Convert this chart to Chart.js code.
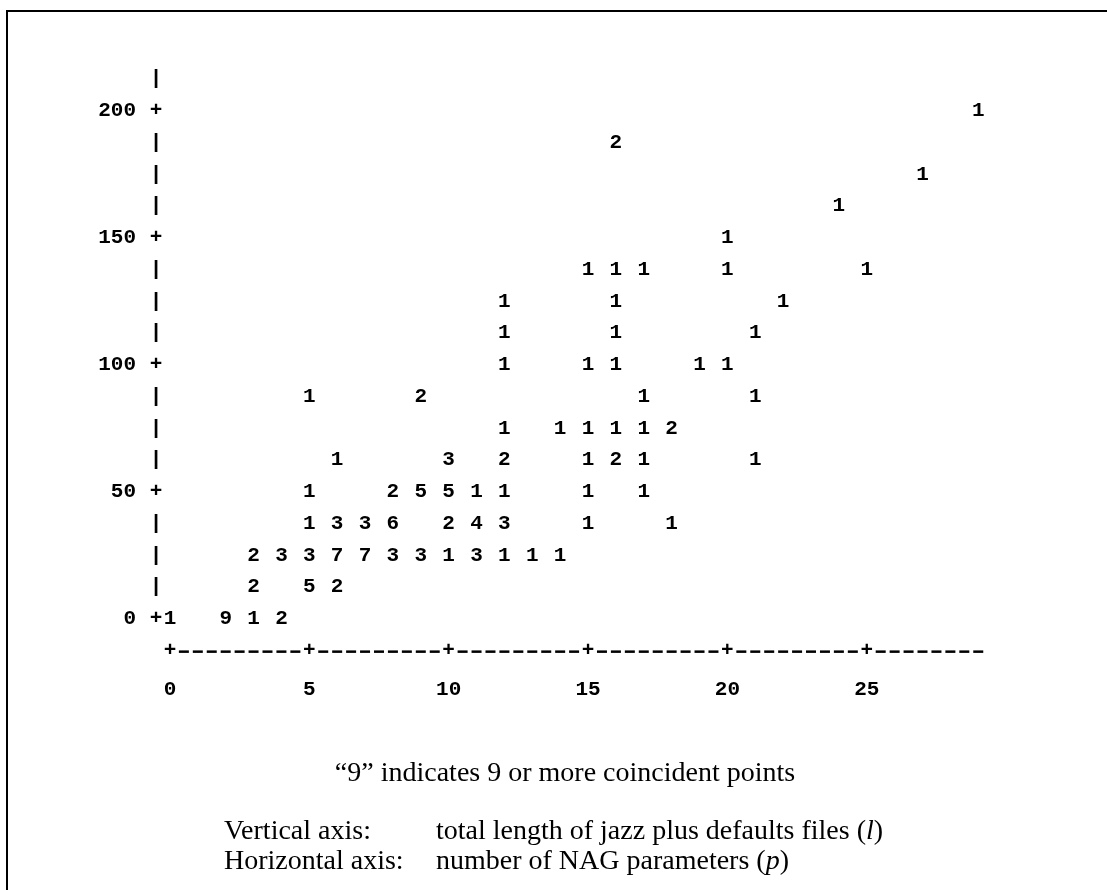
<!DOCTYPE html>
<html>
<head>
<meta charset="utf-8">
<script src="https://cdn.jsdelivr.net/npm/chart.js@4/dist/chart.umd.min.js"></script>
<style>
  body { margin: 0; background: #fff; }
  #wrap { position: relative; width: 1107px; height: 890px; overflow: hidden; }
  #frame { position: absolute; left: 6px; top: 10px; right: -10px; bottom: -10px;
           border-top: 2px solid #000; border-left: 2px solid #000; }
  canvas { position: absolute; left: 0; top: 0; }
  .note { position: absolute; font-family: "Liberation Serif", serif; font-size: 28px;
          line-height: 30px; color: #000; white-space: nowrap; }
</style>
</head>
<body>
<div id="wrap">
  <div id="frame"></div>
  <canvas id="plot" width="1107" height="890"></canvas>
  <div class="note" style="left:0; width:1130px; text-align:center; top:757px;">“9” indicates 9 or more coincident points</div>
  <div class="note" style="left:224px; top:815px;">Vertical axis:</div>
  <div class="note" style="left:436px; top:815px;">total length of jazz plus defaults files (<i>l</i>)</div>
  <div class="note" style="left:224px; top:845px;">Horizontal axis:</div>
  <div class="note" style="left:436px; top:845px;">number of NAG parameters (<i>p</i>)</div>
</div>
<script>
// number of NAG parameters (p) for each plotted cell
const pointX = [
  0, 2, 3, 4,
  3, 5, 6,
  3, 4, 5, 6, 7, 8, 9, 10, 11, 12, 13, 14,
  5, 6, 7, 8, 10, 11, 12, 15, 18,
  5, 8, 9, 10, 11, 12, 15, 17,
  6, 10, 12, 15, 16, 17, 21,
  12, 14, 15, 16, 17, 18,
  5, 9, 17, 21,
  12, 15, 16, 19, 20,
  12, 16, 21,
  12, 16, 22,
  15, 16, 17, 20, 25,
  20,
  24,
  27,
  16,
  29
];
// total length of jazz plus defaults files (l), one print row = 12.5
const pointY = [
  0, 0, 0, 0,
  12.5, 12.5, 12.5,
  25, 25, 25, 25, 25, 25, 25, 25, 25, 25, 25, 25,
  37.5, 37.5, 37.5, 37.5, 37.5, 37.5, 37.5, 37.5, 37.5,
  50, 50, 50, 50, 50, 50, 50, 50,
  62.5, 62.5, 62.5, 62.5, 62.5, 62.5, 62.5,
  75, 75, 75, 75, 75, 75,
  87.5, 87.5, 87.5, 87.5,
  100, 100, 100, 100, 100,
  112.5, 112.5, 112.5,
  125, 125, 125,
  137.5, 137.5, 137.5, 137.5, 137.5,
  150,
  162.5,
  175,
  187.5,
  200
];
// number of coincident points ("9" means 9 or more)
const pointCount = [
  1, 9, 1, 2,
  2, 5, 2,
  2, 3, 3, 7, 7, 3, 3, 1, 3, 1, 1, 1,
  1, 3, 3, 6, 2, 4, 3, 1, 1,
  1, 2, 5, 5, 1, 1, 1, 1,
  1, 3, 2, 1, 2, 1, 1,
  1, 1, 1, 1, 1, 2,
  1, 2, 1, 1,
  1, 1, 1, 1, 1,
  1, 1, 1,
  1, 1, 1,
  1, 1, 1, 1, 1,
  1,
  1,
  1,
  2,
  1
];

const xTicks = [0, 5, 10, 15, 20, 25];
const yTicks = [0, 50, 100, 150, 200];
const rowStep = 12.5;
const yAxisTop = 212.5;
const xAxisEnd = 29;

const mono = { family: 'Liberation Mono', size: 21, weight: 'bold' };
const monoCss = 'bold 21px "Liberation Mono"';

const textPlot = {
  id: 'textPlot',
  afterDatasetsDraw(chart) {
    const ctx = chart.ctx;
    const xs = chart.scales.x, ys = chart.scales.y;
    ctx.save();
    ctx.font = monoCss;
    ctx.fillStyle = '#000';
    ctx.strokeStyle = '#000';
    ctx.textAlign = 'center';
    ctx.textBaseline = 'middle';

    // vertical axis made of | and +
    const ax = xs.getPixelForValue(-0.5);
    for (let v = 0; v <= yAxisTop; v += rowStep) {
      ctx.fillText(v % 50 === 0 ? '+' : '|', ax, ys.getPixelForValue(v));
    }
    // horizontal axis made of - and +
    const ay = ys.getPixelForValue(-rowStep);
    ctx.lineWidth = 2.5;
    for (let v = 0; v <= xAxisEnd; v += 0.5) {
      const px = xs.getPixelForValue(v);
      if (v % 5 === 0) {
        ctx.fillText('+', px, ay);
      } else {
        ctx.beginPath();
        ctx.moveTo(px - 5, ay + 1);
        ctx.lineTo(px + 5, ay + 1);
        ctx.stroke();
      }
    }
    // counts at each point
    const meta = chart.getDatasetMeta(0);
    meta.data.forEach((pt, i) => {
      ctx.fillText(String(pointCount[i]), pt.x, pt.y);
    });
    ctx.restore();
  }
};

const ctx = document.getElementById('plot').getContext('2d');
const myChart = new Chart(ctx, {
  type: 'scatter',
  data: {
    datasets: [{
      data: pointX.map((x, i) => ({ x: x, y: pointY[i] })),
      pointRadius: 0,
      pointHoverRadius: 0
    }]
  },
  options: {
    responsive: false,
    animation: false,
    events: [],
    layout: { padding: { top: 60, right: 73, left: 0, bottom: 0 } },
    plugins: { legend: { display: false }, tooltip: { enabled: false } },
    scales: {
      x: {
        type: 'linear',
        min: -0.5,
        max: 31,
        afterFit(s) { s.height = 233; },
        afterBuildTicks(s) { s.ticks = xTicks.map(v => ({ value: v })); },
        grid: { display: false, drawTicks: false },
        border: { display: false },
        ticks: { padding: 20, font: mono, color: '#000', maxRotation: 0, autoSkip: false }
      },
      y: {
        type: 'linear',
        min: -15,
        max: 220,
        afterFit(s) { s.width = 156; },
        afterBuildTicks(s) { s.ticks = yTicks.map(v => ({ value: v })); },
        grid: { display: false, drawTicks: false },
        border: { display: false },
        ticks: { padding: 20, font: mono, color: '#000', autoSkip: false }
      }
    }
  },
  plugins: [textPlot]
});
</script>
</body>
</html>
